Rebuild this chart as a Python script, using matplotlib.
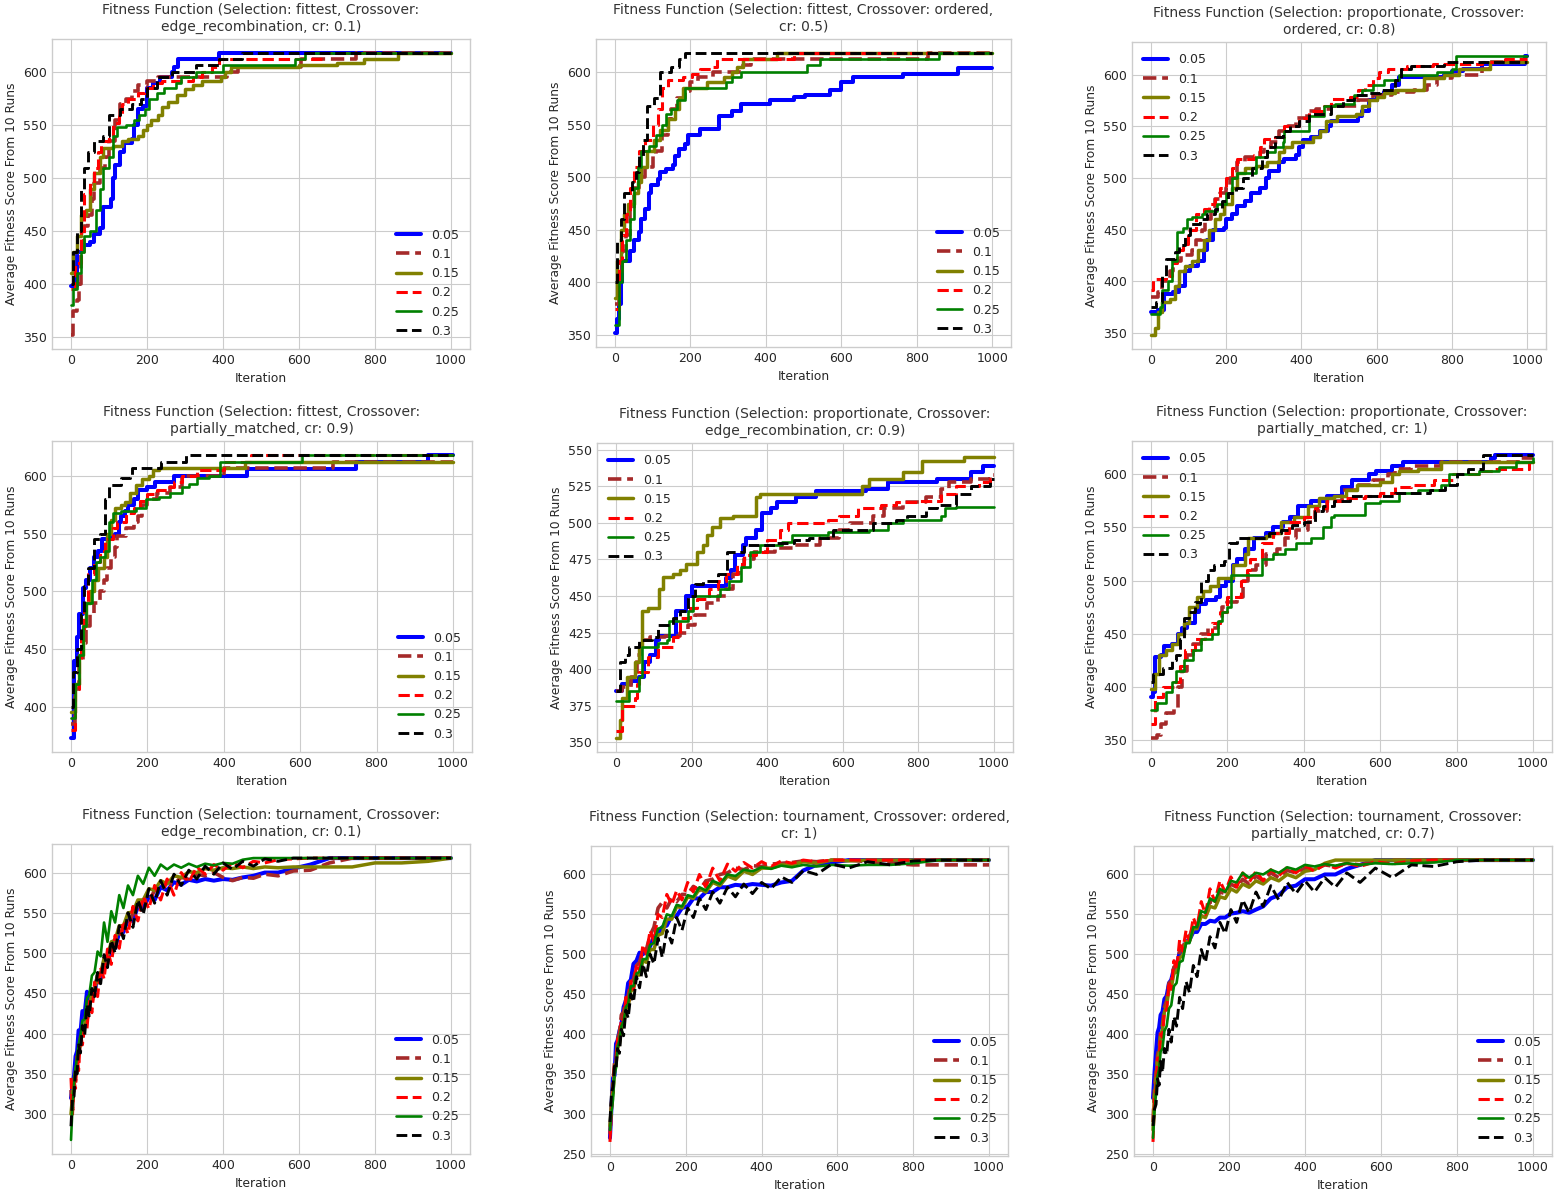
import matplotlib
matplotlib.use("Agg")
import matplotlib.pyplot as plt

plt.style.use("seaborn-v0_8-whitegrid")
plt.rcParams["font.family"] = ["DejaVu Sans"]

rates = ["0.05", "0.1", "0.15", "0.2", "0.25", "0.3"]
colors = ["blue", "brown", "olive", "red", "green", "black"]
styles = ["-", "--", "-", "--", "-", "--"]
widths = [2.9, 2.6, 2.5, 2.2, 1.9, 2.1]

titles = [
    "Fitness Function (Selection: fittest, Crossover:\nedge_recombination, cr: 0.1)",
    "Fitness Function (Selection: fittest, Crossover: ordered,\ncr: 0.5)",
    "Fitness Function (Selection: proportionate, Crossover:\nordered, cr: 0.8)",
    "Fitness Function (Selection: fittest, Crossover:\npartially_matched, cr: 0.9)",
    "Fitness Function (Selection: proportionate, Crossover:\nedge_recombination, cr: 0.9)",
    "Fitness Function (Selection: proportionate, Crossover:\npartially_matched, cr: 1)",
    "Fitness Function (Selection: tournament, Crossover:\nedge_recombination, cr: 0.1)",
    "Fitness Function (Selection: tournament, Crossover: ordered,\ncr: 1)",
    "Fitness Function (Selection: tournament, Crossover:\npartially_matched, cr: 0.7)",
]

# --- fittest / edge_recombination (step curves: iteration where value changes) ---
fit_edge_x = [
    [0, 15, 30, 50, 60, 75, 85, 105, 110, 115, 130, 140, 160, 165, 175, 190, 200, 215, 235, 265, 272, 282, 390, 1000],
    [0, 5, 15, 20, 25, 35, 45, 55, 60, 75, 90, 100, 115, 130, 145, 160, 175, 200, 230, 410, 440, 605, 750, 1000],
    [0, 5, 15, 25, 40, 50, 60, 75, 85, 110, 135, 150, 175, 190, 200, 210, 230, 240, 255, 280, 300, 320, 345, 395, 405, 420, 600, 700, 770, 860, 1000],
    [0, 10, 25, 35, 50, 60, 70, 80, 100, 110, 125, 135, 150, 175, 195, 215, 240, 320, 345, 370, 390, 660, 1000],
    [0, 5, 15, 25, 35, 50, 65, 75, 85, 100, 110, 120, 145, 165, 180, 195, 205, 225, 245, 275, 290, 330, 400, 590, 615, 1000],
    [0, 5, 15, 25, 35, 45, 60, 85, 100, 130, 160, 185, 200, 225, 265, 330, 390, 450, 1000],
]
fit_edge_y = [
    [398, 430, 437, 440, 447, 453, 473, 480, 500, 512, 525, 533, 537, 550, 565, 568, 585, 590, 595, 600, 605, 612, 618, 618],
    [352, 375, 385, 400, 430, 455, 465, 480, 495, 510, 520, 535, 555, 570, 575, 582, 588, 592, 595, 600, 605, 612, 618, 618],
    [410, 430, 445, 465, 470, 490, 505, 520, 528, 530, 535, 537, 540, 545, 550, 555, 560, 567, 572, 578, 584, 588, 592, 595, 600, 605, 607, 609, 612, 618, 618],
    [395, 420, 450, 485, 495, 510, 525, 535, 540, 552, 560, 570, 575, 580, 585, 590, 592, 595, 600, 605, 612, 618, 618],
    [380, 395, 410, 430, 445, 450, 470, 490, 510, 520, 540, 548, 550, 555, 560, 565, 575, 580, 585, 590, 595, 600, 607, 612, 618, 618],
    [400, 430, 450, 490, 510, 525, 535, 540, 560, 565, 570, 575, 585, 595, 600, 607, 612, 618, 618],
]

# --- fittest / ordered ---
fit_ord_x = [
    [0, 5, 10, 15, 20, 40, 50, 65, 70, 80, 90, 95, 115, 120, 135, 155, 160, 170, 185, 195, 225, 275, 310, 335, 410, 475, 505, 570, 600, 630, 765, 910, 1000],
    [0, 10, 20, 30, 40, 50, 65, 80, 100, 110, 125, 140, 150, 165, 185, 200, 220, 260, 340, 360, 830, 1000],
    [0, 5, 15, 25, 35, 50, 60, 70, 85, 105, 120, 140, 160, 170, 180, 245, 290, 310, 325, 340, 430, 1000],
    [0, 10, 20, 30, 40, 50, 65, 80, 100, 115, 125, 140, 180, 205, 225, 255, 270, 475, 1000],
    [0, 10, 20, 30, 40, 50, 60, 70, 90, 110, 125, 135, 150, 165, 185, 295, 310, 335, 510, 545, 860, 1000],
    [0, 5, 15, 25, 45, 55, 65, 75, 85, 105, 120, 150, 170, 185, 1000],
]
fit_ord_y = [
    [352, 365, 380, 400, 420, 430, 440, 448, 460, 470, 485, 493, 498, 505, 508, 512, 520, 527, 532, 540, 546, 558, 563, 570, 573, 576, 578, 583, 590, 595, 598, 604, 604],
    [380, 405, 430, 445, 470, 490, 500, 510, 520, 525, 540, 555, 565, 575, 582, 590, 595, 600, 607, 612, 618, 618],
    [385, 420, 450, 465, 475, 485, 495, 510, 525, 535, 545, 555, 565, 575, 585, 590, 595, 600, 605, 612, 618, 618],
    [375, 420, 445, 465, 490, 510, 525, 535, 550, 565, 585, 592, 595, 598, 603, 605, 612, 618, 618],
    [360, 400, 420, 440, 460, 490, 510, 525, 530, 540, 550, 560, 565, 573, 585, 590, 595, 600, 607, 612, 618, 618],
    [400, 440, 460, 485, 495, 505, 520, 535, 568, 575, 600, 605, 612, 618, 618],
]

# --- proportionate / ordered ---
prop_ord_x = [
    [0, 20, 35, 60, 75, 90, 105, 125, 140, 150, 165, 195, 200, 215, 230, 250, 265, 290, 305, 315, 340, 355, 385, 395, 405, 425, 450, 470, 480, 550, 560, 580, 600, 620, 640, 660, 780, 800, 830, 880, 995, 1000],
    [0, 20, 30, 50, 60, 80, 110, 120, 135, 145, 160, 170, 185, 200, 210, 230, 250, 290, 300, 320, 340, 365, 385, 415, 440, 480, 550, 590, 640, 700, 735, 760, 800, 880, 900, 1000],
    [0, 10, 20, 30, 50, 65, 75, 90, 110, 125, 140, 155, 170, 185, 195, 215, 230, 250, 280, 310, 340, 355, 375, 430, 450, 465, 495, 545, 560, 580, 600, 620, 650, 725, 780, 820, 900, 1000],
    [0, 5, 40, 55, 70, 85, 100, 120, 140, 155, 170, 185, 200, 215, 230, 275, 290, 300, 330, 355, 395, 420, 460, 480, 530, 550, 570, 590, 605, 630, 680, 750, 880, 940, 1000],
    [0, 25, 30, 45, 55, 70, 85, 95, 110, 135, 145, 175, 200, 215, 230, 280, 310, 330, 350, 355, 420, 460, 490, 540, 560, 590, 620, 660, 760, 800, 810, 1000],
    [0, 15, 30, 40, 65, 75, 90, 105, 130, 150, 170, 190, 205, 225, 245, 270, 295, 310, 330, 350, 370, 395, 420, 480, 510, 540, 580, 610, 650, 665, 690, 780, 1000],
]
prop_ord_y = [
    [370, 372, 388, 390, 395, 410, 415, 420, 430, 440, 450, 452, 460, 465, 473, 478, 485, 490, 500, 507, 515, 518, 522, 530, 537, 540, 545, 550, 555, 560, 565, 575, 580, 583, 590, 598, 600, 603, 605, 610, 618, 618],
    [385, 390, 400, 410, 420, 425, 430, 440, 450, 460, 470, 480, 485, 490, 500, 515, 520, 525, 530, 535, 545, 550, 558, 565, 567, 570, 575, 580, 583, 585, 590, 597, 600, 605, 612, 612],
    [348, 355, 370, 380, 383, 395, 410, 415, 420, 430, 440, 450, 460, 465, 475, 490, 505, 510, 512, 515, 525, 530, 535, 540, 545, 555, 560, 562, 570, 575, 578, 582, 585, 597, 600, 605, 612, 612],
    [392, 402, 405, 418, 430, 436, 450, 465, 470, 475, 480, 490, 500, 510, 518, 522, 530, 538, 540, 550, 558, 565, 570, 576, 578, 585, 590, 597, 602, 605, 608, 610, 612, 615, 615],
    [368, 375, 392, 400, 420, 448, 452, 460, 462, 465, 468, 475, 485, 500, 505, 520, 525, 530, 535, 545, 560, 570, 572, 580, 585, 590, 595, 600, 602, 605, 618, 618],
    [375, 380, 405, 422, 428, 435, 445, 455, 460, 465, 470, 478, 485, 490, 500, 510, 520, 530, 540, 545, 550, 555, 562, 570, 575, 580, 582, 585, 595, 605, 608, 612, 612],
]

# --- fittest / partially_matched ---
fit_pmx_x = [
    [0, 8, 15, 22, 30, 40, 50, 60, 70, 80, 100, 115, 125, 130, 140, 150, 165, 175, 200, 220, 270, 460, 745, 935, 1000],
    [0, 10, 20, 30, 40, 50, 60, 75, 85, 95, 105, 115, 120, 145, 165, 175, 185, 200, 225, 260, 290, 400, 685, 1000],
    [0, 10, 20, 30, 40, 50, 60, 70, 85, 95, 105, 115, 130, 140, 155, 170, 185, 205, 215, 230, 455, 1000],
    [0, 10, 20, 25, 35, 45, 60, 75, 90, 110, 120, 145, 165, 180, 200, 225, 250, 270, 290, 330, 400, 470, 1000],
    [0, 10, 20, 30, 40, 55, 65, 75, 90, 100, 110, 130, 170, 195, 230, 260, 290, 310, 330, 360, 390, 605, 1000],
    [0, 5, 15, 25, 35, 45, 60, 75, 90, 100, 130, 155, 160, 235, 300, 1000],
]
fit_pmx_y = [
    [373, 440, 460, 480, 503, 510, 520, 530, 535, 545, 548, 550, 560, 565, 570, 575, 580, 588, 590, 595, 600, 606, 612, 618, 618],
    [385, 415, 440, 455, 470, 480, 490, 500, 510, 520, 530, 538, 548, 555, 560, 565, 575, 580, 585, 590, 600, 607, 612, 612],
    [395, 420, 445, 470, 490, 500, 510, 520, 530, 550, 562, 572, 575, 577, 585, 592, 597, 600, 605, 607, 612, 612],
    [380, 415, 440, 465, 490, 515, 525, 535, 545, 555, 560, 568, 572, 578, 584, 588, 590, 595, 600, 605, 612, 618, 618],
    [390, 420, 445, 470, 490, 510, 525, 530, 535, 560, 568, 570, 572, 580, 582, 585, 590, 593, 598, 600, 612, 618, 618],
    [400, 430, 450, 480, 505, 520, 545, 550, 580, 592, 598, 600, 607, 612, 618, 618],
]

# --- proportionate / edge_recombination ---
prop_edge_x = [
    [0, 15, 40, 60, 75, 90, 105, 115, 160, 185, 200, 290, 305, 315, 335, 345, 370, 385, 410, 425, 475, 530, 660, 720, 850, 940, 970, 1000],
    [0, 15, 40, 55, 65, 90, 130, 170, 190, 210, 240, 270, 290, 310, 325, 340, 365, 420, 470, 540, 590, 620, 680, 710, 760, 820, 860, 880, 940, 990, 1000],
    [0, 10, 15, 30, 50, 60, 70, 85, 115, 125, 150, 170, 185, 215, 230, 240, 255, 275, 310, 370, 380, 650, 670, 760, 810, 920, 1000],
    [0, 15, 50, 55, 60, 85, 110, 150, 170, 195, 215, 245, 270, 290, 320, 340, 370, 400, 435, 455, 560, 590, 640, 700, 740, 800, 860, 900, 960, 990, 1000],
    [0, 35, 60, 70, 110, 135, 140, 190, 205, 275, 300, 330, 355, 380, 440, 465, 560, 670, 720, 760, 860, 870, 900, 1000],
    [0, 10, 25, 35, 60, 95, 110, 150, 170, 190, 210, 230, 270, 295, 340, 420, 470, 510, 575, 680, 740, 770, 820, 850, 900, 940, 990, 1000],
]
prop_edge_y = [
    [385, 390, 392, 395, 405, 410, 420, 423, 440, 450, 457, 462, 468, 478, 485, 490, 495, 507, 510, 514, 518, 522, 523, 528, 530, 535, 539, 539],
    [385, 388, 395, 410, 420, 422, 423, 425, 430, 437, 445, 450, 455, 465, 470, 475, 480, 483, 485, 490, 495, 500, 505, 510, 514, 518, 523, 528, 530, 533, 533],
    [353, 365, 380, 395, 405, 415, 440, 442, 455, 463, 465, 468, 472, 480, 485, 492, 497, 503, 505, 518, 520, 525, 530, 535, 542, 545, 545],
    [358, 375, 380, 390, 398, 408, 415, 422, 435, 442, 448, 455, 460, 465, 472, 478, 480, 488, 495, 500, 502, 505, 510, 512, 514, 515, 520, 525, 528, 530, 530],
    [378, 385, 395, 415, 418, 420, 433, 440, 450, 455, 460, 470, 480, 485, 487, 492, 494, 495, 500, 502, 505, 510, 511, 511],
    [385, 405, 410, 415, 420, 422, 430, 435, 440, 450, 458, 460, 465, 480, 485, 486, 488, 490, 495, 500, 502, 505, 510, 512, 520, 525, 530, 530],
]

# --- proportionate / partially_matched ---
prop_pmx_x = [
    [0, 5, 10, 25, 35, 55, 70, 80, 95, 115, 125, 145, 170, 180, 195, 215, 225, 245, 270, 300, 320, 345, 365, 385, 420, 460, 500, 525, 570, 590, 630, 660, 890, 900, 1000],
    [0, 15, 25, 40, 60, 70, 80, 95, 110, 130, 150, 175, 185, 200, 225, 240, 255, 275, 300, 330, 350, 380, 410, 430, 460, 500, 540, 580, 620, 640, 680, 760, 960, 1000],
    [0, 10, 20, 40, 55, 70, 85, 100, 120, 135, 155, 175, 215, 245, 255, 300, 320, 340, 375, 410, 440, 480, 510, 540, 600, 630, 650, 700, 760, 1000],
    [0, 10, 30, 60, 75, 90, 115, 140, 160, 180, 200, 235, 250, 260, 290, 320, 360, 400, 430, 460, 500, 560, 600, 640, 680, 740, 790, 860, 900, 990, 1000],
    [0, 15, 40, 55, 65, 85, 110, 130, 160, 175, 185, 200, 210, 290, 320, 350, 380, 420, 450, 470, 480, 560, 600, 650, 700, 760, 780, 860, 910, 955, 1000],
    [0, 5, 30, 55, 65, 75, 85, 100, 115, 130, 150, 165, 190, 205, 225, 310, 340, 370, 400, 430, 450, 480, 520, 640, 730, 770, 800, 830, 870, 1000],
]
prop_pmx_y = [
    [390, 395, 428, 430, 438, 440, 450, 455, 460, 470, 478, 482, 485, 495, 500, 515, 520, 530, 540, 545, 550, 555, 560, 570, 575, 580, 588, 595, 600, 603, 608, 612, 615, 618, 618],
    [352, 355, 365, 375, 380, 400, 415, 430, 440, 450, 455, 460, 475, 480, 485, 500, 510, 515, 525, 530, 540, 548, 555, 565, 575, 585, 590, 595, 600, 605, 608, 612, 615, 615],
    [398, 412, 430, 435, 440, 450, 460, 475, 485, 490, 495, 502, 515, 525, 540, 542, 545, 555, 560, 570, 578, 580, 585, 590, 593, 600, 603, 605, 612, 612],
    [365, 390, 400, 405, 420, 435, 445, 450, 460, 470, 485, 500, 510, 520, 535, 545, 555, 560, 568, 575, 578, 580, 582, 588, 590, 595, 600, 603, 605, 612, 612],
    [378, 385, 395, 405, 415, 425, 435, 445, 450, 462, 470, 475, 505, 520, 525, 530, 535, 540, 550, 560, 562, 573, 575, 582, 585, 590, 600, 603, 607, 612, 615],
    [405, 412, 418, 425, 430, 445, 465, 470, 480, 500, 510, 515, 518, 535, 540, 545, 548, 552, 555, 565, 570, 575, 580, 582, 585, 590, 600, 605, 618, 618],
]

# --- tournament runs (noisy averages sampled on a shared iteration grid) ---
tour_iter = [0, 4, 8, 12, 16, 20, 25, 30, 36, 42, 48, 55, 62, 70, 78, 87, 96, 106, 116, 127,
             138, 150, 163, 176, 190, 205, 220, 236, 253, 271, 290, 310, 331, 353, 376, 400, 425, 452, 480, 510,
             545, 585, 630, 680, 740, 800, 870, 940, 1000]

tour_edge_y = [
    [320, 335, 348, 372, 378, 404, 402, 428, 425, 452, 438, 455, 452, 472, 470, 490, 490, 510, 506, 526,
     526, 542, 540, 558, 556, 570, 566, 582, 578, 588, 585, 591, 589, 592, 590, 592, 591, 594, 596, 600,
     600, 605, 610, 618, 618, 618, 618, 618, 618],
    [330, 305, 338, 342, 364, 366, 392, 392, 412, 416, 434, 438, 456, 458, 478, 480, 498, 500, 516, 518,
     534, 534, 550, 550, 566, 564, 578, 576, 588, 586, 594, 592, 598, 596, 600, 594, 590, 594, 593, 598,
     596, 602, 603, 612, 618, 618, 618, 618, 618],
    [300, 322, 342, 354, 362, 380, 386, 404, 408, 430, 430, 452, 454, 474, 474, 494, 496, 514, 516, 534,
     534, 550, 551, 566, 566, 580, 578, 590, 586, 596, 594, 601, 600, 605, 603, 606, 605, 607, 605, 607,
     606, 607, 607, 607, 607, 612, 612, 614, 618],
    [345, 300, 340, 332, 372, 354, 400, 386, 410, 406, 440, 426, 464, 446, 482, 468, 505, 486, 522, 506,
     540, 524, 558, 540, 570, 555, 584, 566, 592, 572, 600, 588, 607, 598, 610, 603, 612, 606, 614, 612,
     616, 617, 618, 618, 618, 618, 618, 618, 618],
    [268, 310, 338, 356, 372, 386, 398, 416, 418, 444, 448, 472, 476, 502, 496, 538, 514, 552, 538, 572,
     556, 584, 572, 596, 586, 606, 596, 610, 604, 610, 606, 611, 607, 611, 609, 612, 611, 616, 618, 618,
     618, 618, 618, 618, 618, 618, 618, 618, 618],
    [285, 322, 322, 356, 350, 386, 376, 410, 398, 436, 422, 456, 446, 476, 462, 498, 482, 516, 500, 534,
     518, 550, 532, 566, 548, 580, 562, 590, 572, 598, 584, 603, 592, 608, 598, 612, 604, 614, 608, 617,
     614, 618, 618, 618, 618, 618, 618, 618, 618],
]

tour_ord_y = [
    [270, 308, 345, 348, 388, 392, 404, 412, 434, 442, 464, 468, 488, 492, 502, 500, 506, 510, 522, 526,
     534, 536, 548, 548, 558, 560, 570, 570, 578, 578, 584, 584, 587, 586, 588, 587, 586, 590, 592, 605,
     612, 615, 618, 618, 618, 618, 618, 618, 618],
    [275, 312, 338, 364, 370, 394, 402, 424, 428, 444, 448, 466, 468, 486, 490, 506, 506, 524, 534, 558,
     565, 558, 570, 566, 575, 575, 585, 580, 592, 594, 600, 602, 608, 606, 611, 610, 613, 614, 615, 617,
     616, 618, 618, 616, 614, 612, 612, 612, 612],
    [285, 312, 328, 354, 362, 382, 388, 406, 412, 432, 434, 454, 456, 474, 474, 492, 490, 506, 506, 524,
     526, 544, 544, 560, 558, 572, 570, 582, 578, 590, 586, 598, 594, 604, 600, 608, 608, 612, 612, 616,
     614, 618, 617, 618, 618, 618, 618, 618, 618],
    [265, 306, 324, 362, 364, 394, 392, 420, 416, 446, 436, 466, 456, 488, 480, 512, 500, 530, 516, 550,
     546, 575, 562, 580, 568, 590, 578, 600, 584, 608, 592, 613, 604, 615, 608, 616, 610, 617, 614, 618,
     616, 618, 618, 618, 618, 618, 618, 618, 618],
    [280, 302, 318, 348, 358, 384, 392, 410, 416, 434, 438, 460, 460, 476, 478, 494, 494, 512, 514, 532,
     534, 550, 548, 562, 560, 574, 572, 584, 580, 592, 588, 600, 598, 606, 604, 609, 607, 611, 609, 612,
     610, 612, 611, 612, 612, 614, 618, 618, 618],
    [290, 326, 334, 360, 356, 382, 376, 406, 398, 430, 420, 450, 440, 472, 458, 488, 472, 500, 488, 520,
     496, 530, 514, 546, 530, 558, 546, 570, 556, 578, 564, 584, 572, 588, 576, 590, 582, 597, 590, 605,
     600, 613, 608, 616, 612, 617, 618, 618, 618],
]

tour_pmx_y = [
    [320, 352, 378, 402, 408, 424, 428, 444, 448, 464, 468, 482, 486, 502, 503, 516, 518, 528, 528, 538,
     538, 542, 541, 546, 546, 551, 552, 554, 552, 556, 560, 570, 574, 584, 586, 594, 594, 600, 600, 607,
     612, 618, 618, 618, 618, 618, 618, 618, 618],
    [290, 334, 352, 374, 382, 404, 412, 434, 442, 464, 466, 484, 486, 504, 506, 522, 522, 536, 536, 552,
     552, 566, 564, 578, 576, 588, 584, 594, 588, 598, 592, 602, 596, 605, 602, 608, 606, 612, 610, 614,
     612, 616, 618, 618, 618, 618, 618, 618, 618],
    [280, 324, 342, 368, 376, 398, 406, 428, 436, 456, 458, 476, 478, 496, 498, 516, 516, 532, 532, 548,
     546, 560, 558, 572, 570, 582, 578, 588, 584, 592, 588, 596, 592, 600, 596, 604, 606, 614, 618, 618,
     618, 618, 618, 618, 618, 618, 618, 618, 618],
    [265, 318, 332, 370, 366, 400, 396, 430, 430, 466, 456, 492, 480, 518, 504, 530, 516, 546, 534, 566,
     550, 582, 566, 592, 578, 597, 584, 602, 590, 604, 592, 606, 598, 609, 602, 611, 604, 613, 608, 614,
     610, 616, 613, 617, 618, 618, 618, 618, 618],
    [270, 304, 326, 348, 356, 378, 382, 404, 410, 432, 436, 460, 464, 490, 492, 514, 514, 534, 534, 554,
     552, 570, 566, 582, 578, 592, 590, 602, 596, 602, 600, 606, 602, 609, 606, 612, 610, 613, 611, 614,
     612, 614, 613, 614, 615, 618, 618, 618, 618],
    [285, 306, 312, 344, 336, 366, 352, 382, 374, 406, 390, 422, 410, 446, 432, 466, 452, 486, 472, 506,
     490, 522, 508, 540, 526, 556, 540, 568, 552, 578, 560, 586, 568, 590, 576, 592, 578, 596, 584, 602,
     590, 608, 596, 612, 610, 616, 618, 618, 618],
]

W, H = 1561, 1190
# axes boxes in pixels: left, right, top, bottom
boxes = [
    (52, 470, 39, 349), (596, 1011, 39, 347), (1132, 1546, 42, 349),
    (52, 472, 441, 752), (597, 1013, 443, 752), (1132, 1552, 441, 752),
    (52, 470, 844, 1154), (591, 1008, 846, 1156), (1134, 1552, 846, 1156),
]

panels = [
    (fit_edge_x, fit_edge_y, True, "lower right"),
    (fit_ord_x, fit_ord_y, True, "lower right"),
    (prop_ord_x, prop_ord_y, True, "upper left"),
    (fit_pmx_x, fit_pmx_y, True, "lower right"),
    (prop_edge_x, prop_edge_y, True, "upper left"),
    (prop_pmx_x, prop_pmx_y, True, "upper left"),
    ([tour_iter] * 6, tour_edge_y, False, "lower right"),
    ([tour_iter] * 6, tour_ord_y, False, "lower right"),
    ([tour_iter] * 6, tour_pmx_y, False, "lower right"),
]

fig = plt.figure(figsize=(W / 100, H / 100), dpi=100)

for k, (xs, ys, stepped, loc) in enumerate(panels):
    l, r, t, b = boxes[k]
    ax = fig.add_axes([l / W, 1 - b / H, (r - l) / W, (b - t) / H])
    for i in range(6):
        n = min(len(xs[i]), len(ys[i]))
        ax.plot(xs[i][:n], ys[i][:n], linestyle=styles[i], color=colors[i],
                linewidth=widths[i], label=rates[i],
                drawstyle="steps-post" if stepped else "default")
    ax.set_title(titles[k], fontsize=10, color="0.2")
    ax.set_xlabel("Iteration", fontsize=8.8)
    ax.set_ylabel("Average Fitness Score From 10 Runs", fontsize=8.8)
    ax.tick_params(labelsize=9)
    ax.legend(loc=loc, fontsize=9)

fig.savefig("out.png", dpi=100)
